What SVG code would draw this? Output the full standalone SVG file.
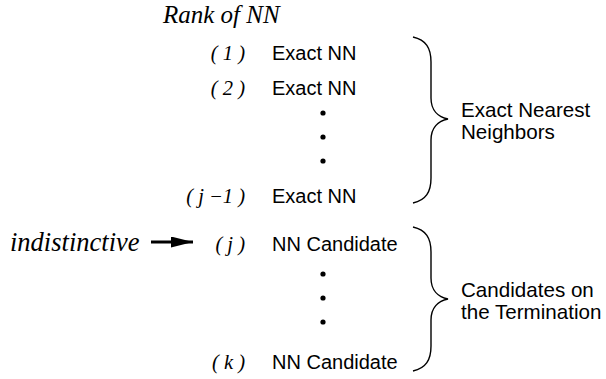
<svg xmlns="http://www.w3.org/2000/svg" width="606" height="379" viewBox="0 0 606 379">
<style>
.it{font-family:"Liberation Serif","Times New Roman",serif;font-style:italic;fill:#000}
.big{font-size:25px}
.rk{font-size:20.5px;text-anchor:end}
.sn{font-family:"Liberation Sans",Arial,sans-serif;font-size:20px;fill:#000}
.lb{font-size:20.6px}
.br{fill:none;stroke:#000;stroke-width:1.4}
</style>
<defs>
<marker id="ah" viewBox="0 0 22 11" refX="22" refY="5.5" markerWidth="22" markerHeight="11" markerUnits="userSpaceOnUse" orient="auto">
<path d="M0,0 L22,5.5 L0,11 Z" fill="#000"/>
</marker>
</defs>
<rect width="606" height="379" fill="#fff"/>
<text id="title" class="it big" x="163" y="23">Rank of NN</text>
<g id="row1"><text class="it rk" x="245" y="60">( 1 )</text><text class="sn" x="272" y="60">Exact NN</text></g>
<g id="row2"><text class="it rk" x="245" y="95">( 2 )</text><text class="sn" x="272" y="95">Exact NN</text></g>
<g id="dots1"><circle cx="323" cy="113" r="2.6"/><circle cx="323" cy="137" r="2.6"/><circle cx="323" cy="161" r="2.6"/></g>
<g id="rowj1"><text class="it rk" x="245" y="203">( j −1 )</text><text class="sn" x="272" y="203">Exact NN</text></g>
<g id="rowj"><text class="it rk" x="245" y="251">( j )</text><text class="sn" x="272" y="251">NN Candidate</text></g>
<g id="dots2"><circle cx="323" cy="274" r="2.6"/><circle cx="323" cy="298" r="2.6"/><circle cx="323" cy="322" r="2.6"/></g>
<g id="rowk"><text class="it rk" x="245" y="369">( k )</text><text class="sn" x="272" y="369">NN Candidate</text></g>
<g id="brace1"><path class="br" d="M413,37 C426,40 431,48 431,62 L431,98 C431,110 438,117 448,119 C438,121 431,128 431,140 L431,178 C431,192 426,200 413,203"/>
<text class="sn lb" x="461" y="116.5">Exact Nearest</text><text class="sn lb" x="461" y="138.5">Neighbors</text></g>
<g id="brace2"><path class="br" d="M413,227 C426,230 431,238 431,252 L431,278 C431,290 438,297 448,299 C438,301 431,308 431,320 L431,346 C431,360 426,368 413,371"/>
<text class="sn lb" x="461" y="296.5">Candidates on</text><text class="sn lb" x="461" y="318.5">the Termination</text></g>
<g id="indistinctive"><text class="it" style="font-size:26.5px" x="10" y="251">indistinctive</text></g>
<g id="connectors"><line x1="151" y1="242" x2="193" y2="242" stroke="#000" stroke-width="3" marker-end="url(#ah)"/></g>
</svg>
